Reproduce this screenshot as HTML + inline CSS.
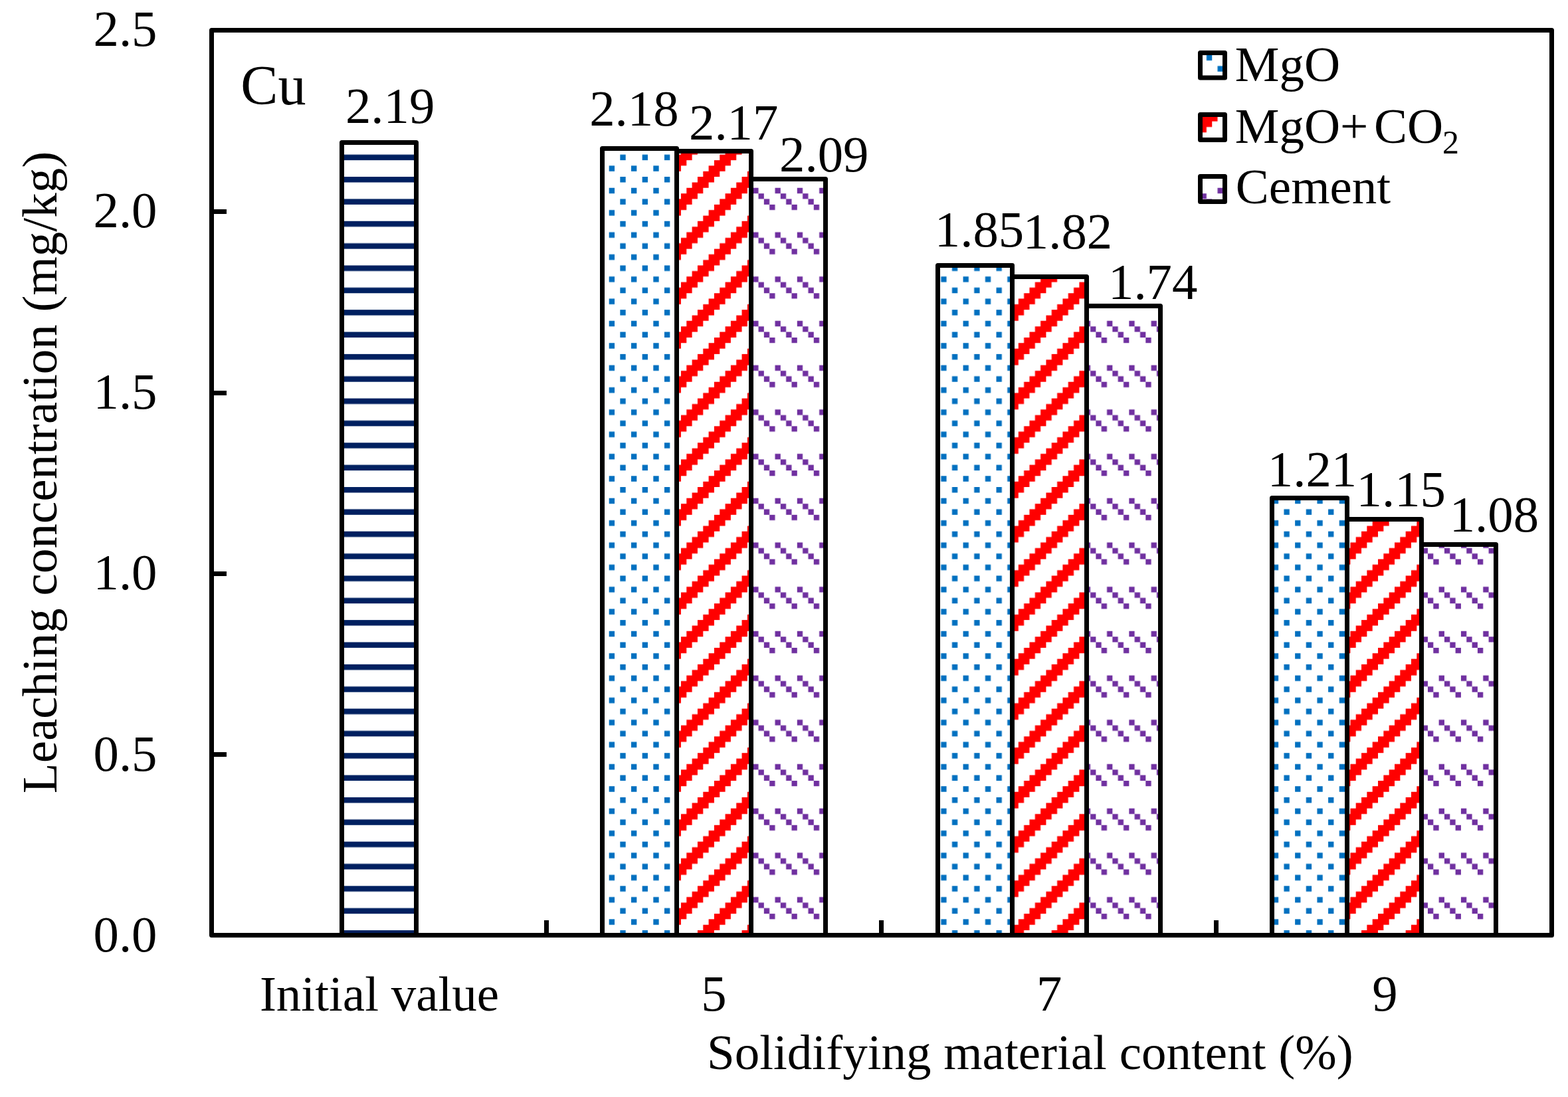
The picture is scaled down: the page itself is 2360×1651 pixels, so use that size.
<!DOCTYPE html>
<html lang="en">
<head>
<meta charset="utf-8">
<title>Leaching concentration (mg/kg) - Cu</title>
<style>
html,body{margin:0;padding:0;background:#fff;}
body{width:2360px;height:1651px;overflow:hidden;}
svg{display:block;}
text{font-family:"Liberation Serif", "DejaVu Serif", serif;font-size:75px;fill:#000;white-space:pre;}
.bar,.frame,.sw{stroke:#000;stroke-width:7;stroke-linejoin:round;}
.tick{stroke:#000;stroke-width:7;fill:none;}
text.n{font-size:76.8px;}
</style>
</head>
<body>
<svg width="2360" height="1651" viewBox="0 0 2360 1651">
<defs>
<pattern id="p-horz" patternUnits="userSpaceOnUse" x="0" y="0" width="200" height="200" patternTransform="translate(0.8 -0.78) scale(0.99915 1.0006)"><rect width="200" height="200" fill="#fff"/><path fill="#002060" transform="scale(8.3333333)" d="M0 0h24v1h-24zM0 4h24v1h-24zM0 8h24v1h-24zM0 12h24v1h-24zM0 16h24v1h-24zM0 20h24v1h-24z"/></pattern>
<pattern id="p-dots" patternUnits="userSpaceOnUse" x="0" y="0" width="200" height="200" patternTransform="translate(0.8 -0.78) scale(0.99915 1.0006)"><rect width="200" height="200" fill="#fff"/><path fill="#0070C0" transform="scale(8.3333333)" d="M0 0h1v1h-1zM4 0h1v1h-1zM8 0h1v1h-1zM12 0h1v1h-1zM16 0h1v1h-1zM20 0h1v1h-1zM2 2h1v1h-1zM6 2h1v1h-1zM10 2h1v1h-1zM14 2h1v1h-1zM18 2h1v1h-1zM22 2h1v1h-1zM0 4h1v1h-1zM4 4h1v1h-1zM8 4h1v1h-1zM12 4h1v1h-1zM16 4h1v1h-1zM20 4h1v1h-1zM2 6h1v1h-1zM6 6h1v1h-1zM10 6h1v1h-1zM14 6h1v1h-1zM18 6h1v1h-1zM22 6h1v1h-1zM0 8h1v1h-1zM4 8h1v1h-1zM8 8h1v1h-1zM12 8h1v1h-1zM16 8h1v1h-1zM20 8h1v1h-1zM2 10h1v1h-1zM6 10h1v1h-1zM10 10h1v1h-1zM14 10h1v1h-1zM18 10h1v1h-1zM22 10h1v1h-1zM0 12h1v1h-1zM4 12h1v1h-1zM8 12h1v1h-1zM12 12h1v1h-1zM16 12h1v1h-1zM20 12h1v1h-1zM2 14h1v1h-1zM6 14h1v1h-1zM10 14h1v1h-1zM14 14h1v1h-1zM18 14h1v1h-1zM22 14h1v1h-1zM0 16h1v1h-1zM4 16h1v1h-1zM8 16h1v1h-1zM12 16h1v1h-1zM16 16h1v1h-1zM20 16h1v1h-1zM2 18h1v1h-1zM6 18h1v1h-1zM10 18h1v1h-1zM14 18h1v1h-1zM18 18h1v1h-1zM22 18h1v1h-1zM0 20h1v1h-1zM4 20h1v1h-1zM8 20h1v1h-1zM12 20h1v1h-1zM16 20h1v1h-1zM20 20h1v1h-1zM2 22h1v1h-1zM6 22h1v1h-1zM10 22h1v1h-1zM14 22h1v1h-1zM18 22h1v1h-1zM22 22h1v1h-1z"/></pattern>
<pattern id="p-diag" patternUnits="userSpaceOnUse" x="0" y="0" width="200" height="200" patternTransform="translate(0.8 -0.78) scale(0.99915 1.0006)"><rect width="200" height="200" fill="#fff"/><path fill="#FF0000" transform="scale(8.3333333)" d="M0 0h1v1h-1zM6 0h3v1h-3zM14 0h3v1h-3zM22 0h2v1h-2zM5 1h3v1h-3zM13 1h3v1h-3zM21 1h3v1h-3zM4 2h3v1h-3zM12 2h3v1h-3zM20 2h3v1h-3zM3 3h3v1h-3zM11 3h3v1h-3zM19 3h3v1h-3zM2 4h3v1h-3zM10 4h3v1h-3zM18 4h3v1h-3zM1 5h3v1h-3zM9 5h3v1h-3zM17 5h3v1h-3zM0 6h3v1h-3zM8 6h3v1h-3zM16 6h3v1h-3zM0 7h2v1h-2zM7 7h3v1h-3zM15 7h3v1h-3zM23 7h1v1h-1zM0 8h1v1h-1zM6 8h3v1h-3zM14 8h3v1h-3zM22 8h2v1h-2zM5 9h3v1h-3zM13 9h3v1h-3zM21 9h3v1h-3zM4 10h3v1h-3zM12 10h3v1h-3zM20 10h3v1h-3zM3 11h3v1h-3zM11 11h3v1h-3zM19 11h3v1h-3zM2 12h3v1h-3zM10 12h3v1h-3zM18 12h3v1h-3zM1 13h3v1h-3zM9 13h3v1h-3zM17 13h3v1h-3zM0 14h3v1h-3zM8 14h3v1h-3zM16 14h3v1h-3zM0 15h2v1h-2zM7 15h3v1h-3zM15 15h3v1h-3zM23 15h1v1h-1zM0 16h1v1h-1zM6 16h3v1h-3zM14 16h3v1h-3zM22 16h2v1h-2zM5 17h3v1h-3zM13 17h3v1h-3zM21 17h3v1h-3zM4 18h3v1h-3zM12 18h3v1h-3zM20 18h3v1h-3zM3 19h3v1h-3zM11 19h3v1h-3zM19 19h3v1h-3zM2 20h3v1h-3zM10 20h3v1h-3zM18 20h3v1h-3zM1 21h3v1h-3zM9 21h3v1h-3zM17 21h3v1h-3zM0 22h3v1h-3zM8 22h3v1h-3zM16 22h3v1h-3zM0 23h2v1h-2zM7 23h3v1h-3zM15 23h3v1h-3zM23 23h1v1h-1z"/></pattern>
<pattern id="p-dash" patternUnits="userSpaceOnUse" x="0" y="0" width="200" height="200" patternTransform="translate(0.8 -0.78) scale(0.99915 1.0006)"><rect width="200" height="200" fill="#fff"/><path fill="#7030A0" transform="scale(8.3333333)" d="M0 2h1v1h-1zM4 2h1v1h-1zM8 2h1v1h-1zM12 2h1v1h-1zM16 2h1v1h-1zM20 2h1v1h-1zM1 3h1v1h-1zM5 3h1v1h-1zM9 3h1v1h-1zM13 3h1v1h-1zM17 3h1v1h-1zM21 3h1v1h-1zM2 4h1v1h-1zM6 4h1v1h-1zM10 4h1v1h-1zM14 4h1v1h-1zM18 4h1v1h-1zM22 4h1v1h-1zM3 5h1v1h-1zM7 5h1v1h-1zM11 5h1v1h-1zM15 5h1v1h-1zM19 5h1v1h-1zM23 5h1v1h-1zM0 10h1v1h-1zM4 10h1v1h-1zM8 10h1v1h-1zM12 10h1v1h-1zM16 10h1v1h-1zM20 10h1v1h-1zM1 11h1v1h-1zM5 11h1v1h-1zM9 11h1v1h-1zM13 11h1v1h-1zM17 11h1v1h-1zM21 11h1v1h-1zM2 12h1v1h-1zM6 12h1v1h-1zM10 12h1v1h-1zM14 12h1v1h-1zM18 12h1v1h-1zM22 12h1v1h-1zM3 13h1v1h-1zM7 13h1v1h-1zM11 13h1v1h-1zM15 13h1v1h-1zM19 13h1v1h-1zM23 13h1v1h-1zM0 18h1v1h-1zM4 18h1v1h-1zM8 18h1v1h-1zM12 18h1v1h-1zM16 18h1v1h-1zM20 18h1v1h-1zM1 19h1v1h-1zM5 19h1v1h-1zM9 19h1v1h-1zM13 19h1v1h-1zM17 19h1v1h-1zM21 19h1v1h-1zM2 20h1v1h-1zM6 20h1v1h-1zM10 20h1v1h-1zM14 20h1v1h-1zM18 20h1v1h-1zM22 20h1v1h-1zM3 21h1v1h-1zM7 21h1v1h-1zM11 21h1v1h-1zM15 21h1v1h-1zM19 21h1v1h-1zM23 21h1v1h-1z"/></pattern>
</defs>
<rect x="0" y="0" width="2360" height="1651" fill="#fff"/>
<g id="bars">
<rect class="bar" x="514.5" y="214.5" width="112" height="1193" fill="url(#p-horz)"/>
<rect class="bar" x="906.5" y="223.5" width="112" height="1184" fill="url(#p-dots)"/>
<rect class="bar" x="1018.5" y="227.5" width="112" height="1180" fill="url(#p-diag)"/>
<rect class="bar" x="1130.5" y="269.5" width="112" height="1138" fill="url(#p-dash)"/>
<rect class="bar" x="1411.5" y="399.5" width="112" height="1008" fill="url(#p-dots)"/>
<rect class="bar" x="1523.5" y="416.5" width="112" height="991" fill="url(#p-diag)"/>
<rect class="bar" x="1635.5" y="460.5" width="111" height="947" fill="url(#p-dash)"/>
<rect class="bar" x="1914.5" y="749.5" width="113" height="658" fill="url(#p-dots)"/>
<rect class="bar" x="2027.5" y="781.5" width="112" height="626" fill="url(#p-diag)"/>
<rect class="bar" x="2139.5" y="819.5" width="112" height="588" fill="url(#p-dash)"/>
</g>
<g id="ticks">
<path class="tick" d="M318.5 318.5H341M318.5 591.5H341M318.5 863.5H341M318.5 1135.5H341M822.5 1407.5V1385M1326.5 1407.5V1385M1830.5 1407.5V1385"/>
</g>
<rect class="frame" x="318.5" y="45.5" width="2017" height="1362" fill="none"/>
<g id="legend">
<rect class="sw" x="1806.5" y="79.5" width="37" height="37.5" fill="url(#p-dots)"/>
<rect class="sw" x="1806.5" y="172.5" width="37" height="38" fill="url(#p-diag)"/>
<rect class="sw" x="1806.5" y="265.5" width="37" height="38" fill="url(#p-dash)"/>
</g>
<g id="labels">
<text x="140.5" y="68.9" class="n">2.5</text>
<text x="140.5" y="342.2" class="n">2.0</text>
<text x="140.5" y="615.4" class="n">1.5</text>
<text x="140.5" y="887.4" class="n">1.0</text>
<text x="140.5" y="1159.5" class="n">0.5</text>
<text x="140.5" y="1431.8" class="n">0.0</text>
<text x="390.89" y="1520.9">Initial value</text>
<text x="1055.34" y="1521" class="n">5</text>
<text x="1559.94" y="1521" class="n">7</text>
<text x="2065.2" y="1521" class="n">9</text>
<text x="1063.98" y="1608.5">Solidifying material content (%)</text>
<text x="85.2" y="1194.16" transform="rotate(-90 85.2 1194.16)">Leaching concentration (mg/kg)</text>
<text x="362.25" y="157" style="font-size:84.2px">Cu</text>
<text x="519.9" y="184.9" class="n">2.19</text>
<text x="887.2" y="188.5" class="n">2.18</text>
<text x="1037" y="210.1" class="n">2.17</text>
<text x="1173.1" y="257.6" class="n">2.09</text>
<text x="1406.8" y="370.6" class="n">1.85</text>
<text x="1539.8" y="373.9" class="n">1.82</text>
<text x="1668" y="449.9" class="n">1.74</text>
<text x="1907.8" y="732.1" class="n">1.21</text>
<text x="2041.6" y="761.8" class="n">1.15</text>
<text x="2181.7" y="800.2" class="n">1.08</text>
<text x="1858.74" y="121.9">MgO</text>
<text x="1858.74" y="214.6">MgO+<tspan x="2067.92">CO</tspan><tspan x="2171.00" dy="16.3" style="font-size:50px">2</tspan></text>
<text x="1859.82" y="306.3">Cement</text>
</g>
</svg>
</body>
</html>
